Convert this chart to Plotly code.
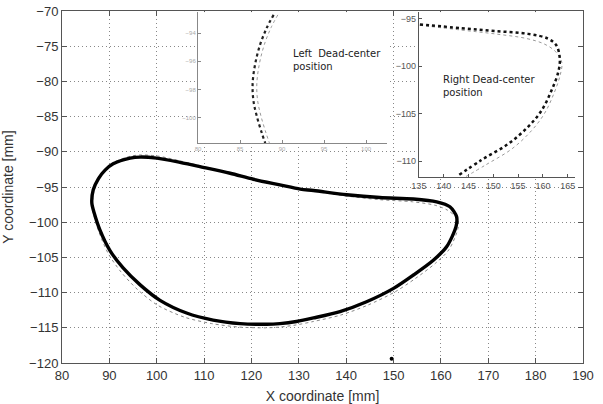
import plotly.graph_objects as go

# ---------------- data ----------------
# main measured trajectory (black) - closed loop, starting at the top
main_x = [100.0, 104.9, 109.8, 115.5, 120.4, 126.0, 130.3, 133.1,
          140.1, 147.1, 154.2, 159.1, 161.9, 163.3, 163.2, 161.2, 158.4, 154.2, 150.0,
          144.3, 138.7, 133.1, 129.5, 126.0, 123.2, 117.6, 111.9, 106.3, 100.7, 96.5,
          92.9, 90.1, 88.0, 86.8, 86.3, 86.6, 87.7, 89.1, 90.8, 94.4, 96.5, 100.0]
main_y = [-90.9, -91.5, -92.2, -93.05, -93.9, -94.7, -95.3, -95.5,
          -96.1, -96.5, -96.7, -97.1, -97.8, -99.2, -100.6, -103.5, -105.4, -107.5, -109.4,
          -111.3, -112.7, -113.6, -114.1, -114.4, -114.5, -114.4, -113.9, -112.9, -111.1, -108.9,
          -106.5, -104.0, -101.1, -98.7, -97.3, -95.4, -93.8, -92.6, -91.7, -90.9, -90.75, -90.9]
# simulated trajectory (grey dotted)
sim_x = [100.2, 105.0, 109.9, 115.6, 120.5, 126.1, 130.4, 133.2,
         140.2, 147.0, 154.0, 158.8, 161.4, 163.6, 163.6, 161.7, 158.9, 154.6, 150.3,
         144.5, 138.8, 133.1, 129.4, 125.9, 123.0, 117.4, 111.6, 105.9, 100.2, 96.0,
         92.5, 89.8, 87.8, 86.7, 86.4, 86.8, 88.0, 89.5, 91.2, 94.6, 96.8, 100.2]
sim_y = [-90.6, -91.3, -92.1, -93.0, -93.8, -94.7, -95.3, -95.6,
         -96.3, -96.8, -97.1, -97.6, -98.3, -99.6, -100.9, -103.9, -105.8, -108.0, -109.9,
         -111.8, -113.2, -114.1, -114.6, -114.9, -115.0, -114.9, -114.4, -113.5, -111.8, -109.6,
         -107.1, -104.5, -101.4, -98.9, -97.4, -95.4, -93.6, -92.3, -91.4, -90.6, -90.45, -90.6]
stray_x = [149.6]
stray_y = [-119.4]

# left dead-center inset
left_x = [89.0, 88.2, 87.4, 86.8, 86.5, 86.6, 87.0, 87.6, 88.0]
left_y = [-92.7, -93.6, -94.8, -96.2, -97.6, -98.8, -99.9, -101.1, -101.8]
left_sim_x = [89.5, 88.7, 87.9, 87.3, 87.0, 87.1, 87.5, 88.1, 88.5]
left_sim_y = [-92.7, -93.6, -94.8, -96.2, -97.6, -98.8, -99.9, -101.1, -101.8]

# right dead-center inset
right_x = [135.2, 143.6, 150.3, 157.0, 161.0, 162.7, 163.4, 163.1, 161.7, 159.7, 157.0, 153.0, 147.6, 142.6]
right_y = [-95.6, -96.0, -96.3, -96.6, -97.1, -97.8, -99.2, -100.6, -102.6, -104.7, -106.4, -108.2, -109.9, -111.65]
right_sim_x = [135.2, 143.6, 150.3, 156.8, 160.4, 162.6, 163.8, 163.5, 162.2, 160.3, 157.7, 153.8, 148.5, 143.6]
right_sim_y = [-95.7, -96.2, -96.6, -97.1, -97.7, -98.5, -99.6, -100.9, -102.9, -105.0, -106.8, -108.7, -110.4, -111.9]

x_ticks = [80, 90, 100, 110, 120, 130, 140, 150, 160, 170, 180, 190]
y_ticks = [-70, -75, -80, -85, -90, -95, -100, -105, -110, -115, -120]
left_xticks = [80, 85, 90, 95, 100]
left_yticks = [-94, -96, -98, -100]
right_xticks = [135, 140, 145, 150, 155, 160, 165]
right_yticks = [-95, -100, -105, -110]

fig = go.Figure()

# main
fig.add_trace(go.Scatter(x=sim_x, y=sim_y, mode="lines",
                         line=dict(color="#888", width=1, dash="dot", shape="spline", smoothing=0.8),
                         xaxis="x", yaxis="y", showlegend=False))
fig.add_trace(go.Scatter(x=main_x, y=main_y, mode="lines",
                         line=dict(color="black", width=3.4, shape="spline", smoothing=0.8),
                         xaxis="x", yaxis="y", showlegend=False))
fig.add_trace(go.Scatter(x=stray_x, y=stray_y, mode="markers", marker=dict(color="black", size=4),
                         xaxis="x", yaxis="y", showlegend=False))

# left inset
fig.add_trace(go.Scatter(x=left_sim_x, y=left_sim_y, mode="lines",
                         line=dict(color="#999", width=1, dash="dot", shape="spline"),
                         xaxis="x2", yaxis="y2", showlegend=False))
fig.add_trace(go.Scatter(x=left_x, y=left_y, mode="lines",
                         line=dict(color="#222", width=2.2, dash="dot", shape="spline"),
                         xaxis="x2", yaxis="y2", showlegend=False))

# right inset
fig.add_trace(go.Scatter(x=right_sim_x, y=right_sim_y, mode="lines",
                         line=dict(color="#999", width=1, dash="dot", shape="spline"),
                         xaxis="x3", yaxis="y3", showlegend=False))
fig.add_trace(go.Scatter(x=right_x, y=right_y, mode="lines",
                         line=dict(color="#111", width=2.5, dash="dot", shape="spline"),
                         xaxis="x3", yaxis="y3", showlegend=False))

tickfont = dict(family="Liberation Sans, Arial, sans-serif", size=13, color="#333")
axcommon = dict(showline=True, linecolor="#555", linewidth=1, mirror="ticks", ticks="inside", ticklen=5,
                tickcolor="#555", showgrid=True, gridcolor="#888", griddash="1px,3px", gridwidth=1,
                zeroline=False, tickfont=tickfont, automargin=False)

fig.update_layout(
    width=603, height=404,
    margin=dict(l=62, r=20, t=11, b=41),
    paper_bgcolor="white", plot_bgcolor="white",
    font=dict(family="Liberation Sans, Arial, sans-serif", color="#333"),
    xaxis=dict(range=[80, 190], tickvals=x_ticks, domain=[0, 1],
               title=dict(text="X coordinate [mm]", font=dict(size=14, color="#333")), **axcommon),
    yaxis=dict(range=[-120, -70], tickvals=y_ticks, domain=[0, 1],
               title=dict(text="Y coordinate [mm]", font=dict(size=14, color="#333")), **axcommon),
    xaxis2=dict(range=[80, 102.5], tickvals=left_xticks, domain=[0.261, 0.624], anchor="y2",
                showline=True, linecolor="#888", ticks="inside", ticklen=3, tickcolor="#888", automargin=False,
                showgrid=False, zeroline=False, tickfont=dict(size=6, color="#aaa")),
    yaxis2=dict(range=[-101.8, -92.5], tickvals=left_yticks, domain=[0.625, 0.997], anchor="x2",
                showline=True, linecolor="#888", ticks="inside", ticklen=3, tickcolor="#888", automargin=False,
                showgrid=False, zeroline=False, tickfont=dict(size=6, color="#aaa")),
    xaxis3=dict(range=[135, 166.5], tickvals=right_xticks, domain=[0.685, 0.985], anchor="y3",
                showline=True, linecolor="#555", ticks="inside", ticklen=3, tickcolor="#555", automargin=False,
                showgrid=False, zeroline=False, tickfont=dict(size=9, color="#555")),
    yaxis3=dict(range=[-111.7, -94.3], tickvals=right_yticks, domain=[0.528, 0.997], anchor="x3",
                showline=True, linecolor="#555", ticks="inside", ticklen=3, tickcolor="#555", automargin=False,
                showgrid=False, zeroline=False, tickfont=dict(size=9, color="#555")),
)

fig.add_annotation(text="Left  Dead-center<br>position", xref="paper", yref="paper",
                   x=(291 - 62) / 521, y=(363 - 46) / 352, xanchor="left", yanchor="top", align="left",
                   showarrow=False, font=dict(family="DejaVu Sans, Verdana, sans-serif", size=10, color="#222"))
fig.add_annotation(text="Right Dead-center<br>position", xref="paper", yref="paper",
                   x=(441 - 62) / 521, y=(363 - 72) / 352, xanchor="left", yanchor="top", align="left",
                   showarrow=False, font=dict(family="DejaVu Sans, Verdana, sans-serif", size=10, color="#222"))

fig.write_html("out.html", config={"displayModeBar": False},
               post_script="document.body.style.margin='0px';document.body.style.padding='0px';")
